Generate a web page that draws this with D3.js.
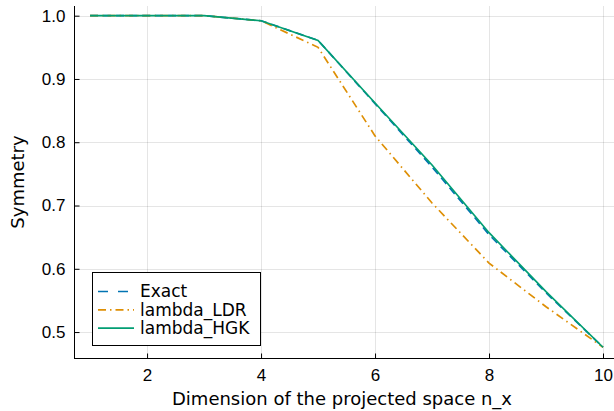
<!DOCTYPE html>
<html>
<head>
<meta charset="utf-8">
<script src="https://cdn.jsdelivr.net/npm/d3@7"></script>
<style>
	body { margin: 0; background: #fff; }
	svg { display: block; font-family: 'DejaVu Sans', sans-serif; }
</style>
</head>
<body>
<svg id="chart" width="614" height="411"></svg>
<script>
;(() => {
	'use strict';

	// data
	const dims = [1, 2, 3, 4, 5, 6, 7, 8, 9, 10],
		exact = [1.0, 1.0, 1.0, 0.992, 0.961, 0.861, 0.761, 0.654, 0.562, 0.476],
		lambdaLDR = [1.0, 1.0, 1.0, 0.992, 0.950, 0.810, 0.704, 0.609, 0.540, 0.476],
		lambdaHGK = [1.0, 1.0, 1.0, 0.992, 0.961, 0.862, 0.764, 0.657, 0.564, 0.476],
		xTicks = [2, 4, 6, 8, 10],
		yTicks = [0.5, 0.6, 0.7, 0.8, 0.9, 1.0];

	const series = [
		{ name: 'Exact', values: exact, color: '#0173b2', dash: '8,5' },
		{ name: 'lambda_LDR', values: lambdaLDR, color: '#de8f05', dash: '8,4,1.5,4' },
		{ name: 'lambda_HGK', values: lambdaHGK, color: '#029e73', dash: null }
	];

	const left = 74, right = 614, top = 6, bottom = 358;

	const svg = d3.select('#chart');

	const x = d3.scaleLinear().domain([0.718, 10.2]).range([left, 614.4]),
		y = d3.scaleLinear().domain([0.459, 1.0153]).range([bottom, top]);

	// grid
	const grid = svg.append('g').attr('stroke', '#000').attr('stroke-opacity', 0.1).attr('stroke-width', 1);
	grid.selectAll('.gx').data(xTicks).enter().append('line')
		.attr('x1', d => Math.round(x(d)) + 0.5).attr('x2', d => Math.round(x(d)) + 0.5)
		.attr('y1', top).attr('y2', bottom);
	grid.selectAll('.gy').data(yTicks).enter().append('line')
		.attr('x1', left).attr('x2', right)
		.attr('y1', d => Math.round(y(d)) + 0.5).attr('y2', d => Math.round(y(d)) + 0.5);

	// axes (ticks drawn inward)
	const xAxis = d3.axisBottom(x).tickValues(xTicks).tickSize(-5).tickPadding(10).tickFormat(d3.format('d'));
	const yAxis = d3.axisLeft(y).tickValues(yTicks).tickSize(-5).tickPadding(9).tickFormat(d3.format('.1f'));

	const gx = svg.append('g').attr('transform', `translate(0,${bottom + 0.5})`).call(xAxis);
	const gy = svg.append('g').attr('transform', `translate(${left + 0.5},0)`).call(yAxis);

	[gx, gy].forEach(g => {
		g.select('.domain').remove();
		g.selectAll('.tick line').attr('stroke', '#000').attr('stroke-width', 1);
		g.selectAll('.tick text').attr('fill', '#000').style('font-size', '17px');
	});

	// spines
	svg.append('line').attr('x1', left).attr('x2', right).attr('y1', bottom + 0.5).attr('y2', bottom + 0.5)
		.attr('stroke', '#000').attr('stroke-width', 1);
	svg.append('line').attr('x1', left + 0.5).attr('x2', left + 0.5).attr('y1', top).attr('y2', bottom + 1)
		.attr('stroke', '#000').attr('stroke-width', 1);

	// lines
	const line = d3.line()
		.x((d, i) => x(dims[i]))
		.y(d => y(d));

	series.forEach(s => {
		svg.append('path')
			.datum(s.values)
			.attr('d', line)
			.attr('fill', 'none')
			.attr('stroke', s.color)
			.attr('stroke-width', 1.7)
			.attr('stroke-dasharray', s.dash);
	});

	// axis titles
	svg.append('text')
		.attr('x', 342).attr('y', 405)
		.attr('text-anchor', 'middle')
		.style('font-size', '18px')
		.text('Dimension of the projected space n_x');

	svg.append('text')
		.attr('transform', 'translate(24,182) rotate(-90)')
		.attr('text-anchor', 'middle')
		.style('font-size', '18px')
		.text('Symmetry');

	// legend
	const legend = svg.append('g');
	legend.append('rect')
		.attr('x', 92.5).attr('y', 272.5).attr('width', 168).attr('height', 73)
		.attr('fill', '#fff').attr('stroke', '#000').attr('stroke-width', 1);

	const rows = legend.selectAll('.row').data(series).enter().append('g')
		.attr('transform', (d, i) => `translate(0,${291.5 + i * 18.3})`);
	rows.append('line')
		.attr('x1', 98).attr('x2', 134).attr('y1', 0).attr('y2', 0)
		.attr('stroke', d => d.color).attr('stroke-width', 1.7)
		.attr('stroke-dasharray', d => d.name === 'Exact' ? '10,10' : d.dash);
	rows.append('text')
		.attr('x', 140).attr('y', 0).attr('dy', '0.35em')
		.style('font-size', '17px')
		.text(d => d.name);
})();
</script>
</body>
</html>
